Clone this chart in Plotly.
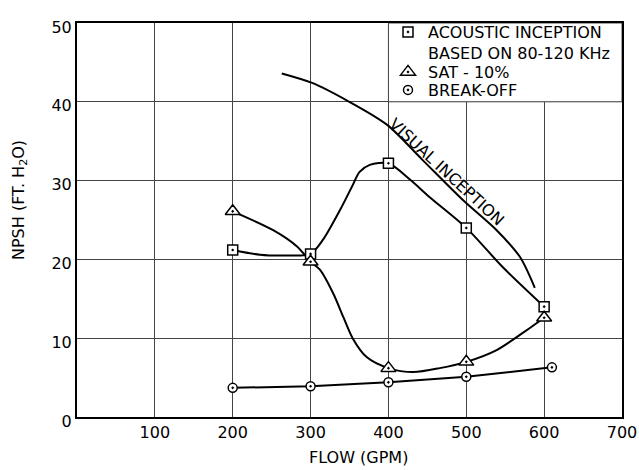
import plotly.graph_objects as go

# ---- data ----
flow_pts = [200, 300, 400, 500, 600]
acoustic_pts = [21.2, 20.7, 32.2, 24.0, 14.0]
sat_pts = [26.1, 19.7, 6.2, 7.0, 12.6]
breakoff_flow = [200, 300, 400, 500, 610]
breakoff_pts = [3.7, 3.9, 4.4, 5.1, 6.3]

# hand-drawn curves
acoustic_curve_x = [200, 235, 270, 300, 316, 338, 353, 363, 376, 400, 428, 453, 500, 547, 600]
acoustic_curve_y = [21.2, 20.6, 20.5, 20.7, 22.5, 26.3, 29.2, 31.1, 32.0, 32.2, 30.1, 27.9, 24.0, 19.0, 14.0]
sat_curve_x = [200, 252, 283, 300, 312, 329, 342, 354, 372, 400, 432, 466, 500, 539, 573, 600]
sat_curve_y = [26.1, 23.7, 21.6, 19.7, 18.7, 15.7, 12.7, 10.0, 7.6, 6.2, 5.7, 6.2, 7.0, 8.5, 10.7, 12.6]
visual_x = [263, 302, 348, 398, 444, 496, 539, 569, 588]
visual_y = [43.6, 42.4, 40.1, 37.1, 32.6, 27.5, 23.7, 20.3, 16.4]

x_ticks = [100, 200, 300, 400, 500, 600, 700]
y_ticks = [0, 10, 20, 30, 40, 50]

FONT = "DejaVu Sans"
FS = 16
LINE = dict(color="black", width=2)
GRID = "#444"

# plot-area geometry in pixels
L, R, T, B = 77, 17, 23, 53
PH = 470 - T - B
PW = 639 - L - R

fig = go.Figure()

for cx, cy in [(acoustic_curve_x, acoustic_curve_y), (sat_curve_x, sat_curve_y), (visual_x, visual_y)]:
    fig.add_trace(go.Scatter(x=cx, y=cy, mode="lines", line=dict(shape="spline", smoothing=0.8, **LINE),
                             showlegend=False, hoverinfo="skip"))
fig.add_trace(go.Scatter(x=breakoff_flow, y=breakoff_pts, mode="lines", line=LINE,
                         showlegend=False, hoverinfo="skip"))

fig.add_trace(go.Scatter(x=flow_pts, y=acoustic_pts, mode="markers", legend="legend",
                         name="ACOUSTIC INCEPTION<br>BASED ON 80-120 KHz",
                         marker=dict(symbol="square-dot", size=10, color="white",
                                     line=dict(color="black", width=1.5))))
fig.add_trace(go.Scatter(x=flow_pts, y=sat_pts, mode="markers", name="SAT - 10%", legend="legend2",
                         marker=dict(symbol="triangle-up-dot", size=13, color="white",
                                     line=dict(color="black", width=1.5))))
fig.add_trace(go.Scatter(x=breakoff_flow, y=breakoff_pts, mode="markers", name="BREAK-OFF", legend="legend3",
                         marker=dict(symbol="circle-dot", size=9, color="white",
                                     line=dict(color="black", width=1.5))))

# white legend panel covering the top-right grid cell
fig.add_shape(type="rect", xref="x", yref="y", x0=400, x1=700, y0=40, y1=50,
              fillcolor="white", line=dict(color=GRID, width=1), layer="between")

fig.add_annotation(x=474, y=31.1, xref="x", yref="y", text="VISUAL INCEPTION",
                   showarrow=False, textangle=42.6, font=dict(family=FONT, size=FS, color="black"))
fig.add_annotation(x=(20 - L) / PW, y=(470 - B - 200) / PH, xref="paper", yref="paper",
                   xanchor="center", yanchor="middle", text="NPSH (FT. H<sub>2</sub>O)",
                   showarrow=False, textangle=-90, font=dict(family=FONT, size=FS, color="black"))
fig.add_annotation(x=(358 - L) / PW, y=(470 - B - 458) / PH, xref="paper", yref="paper",
                   xanchor="center", yanchor="middle", text="FLOW (GPM)",
                   showarrow=False, font=dict(family=FONT, size=FS, color="black"))


def leg(center_px):
    top = center_px - 18
    return dict(x=(388 - L) / PW, y=1 - (top - T) / PH, xanchor="left", yanchor="top",
                bgcolor="rgba(0,0,0,0)", borderwidth=0, valign="top",
                font=dict(family=FONT, size=FS), tracegroupgap=0, itemwidth=30)


fig.update_layout(
    width=639, height=470,
    margin=dict(l=L, r=R, t=T, b=B),
    paper_bgcolor="white", plot_bgcolor="white",
    font=dict(family=FONT, size=FS, color="black"),
    legend=leg(33), legend2=leg(73), legend3=leg(91),
)
fig.update_xaxes(range=[0, 700], tickvals=x_ticks, ticktext=[str(v) for v in x_ticks],
                 showgrid=True, gridcolor=GRID, gridwidth=1,
                 showline=True, linecolor="black", linewidth=2, mirror=True,
                 zeroline=False, ticks="", automargin=False)
fig.update_yaxes(range=[0, 50], tickvals=y_ticks, ticktext=[str(v) for v in y_ticks],
                 showgrid=True, gridcolor=GRID, gridwidth=1,
                 showline=True, linecolor="black", linewidth=2, mirror=True,
                 zeroline=False, ticks="", ticklabelshift=4, automargin=False)

fig.write_html("out.html")
